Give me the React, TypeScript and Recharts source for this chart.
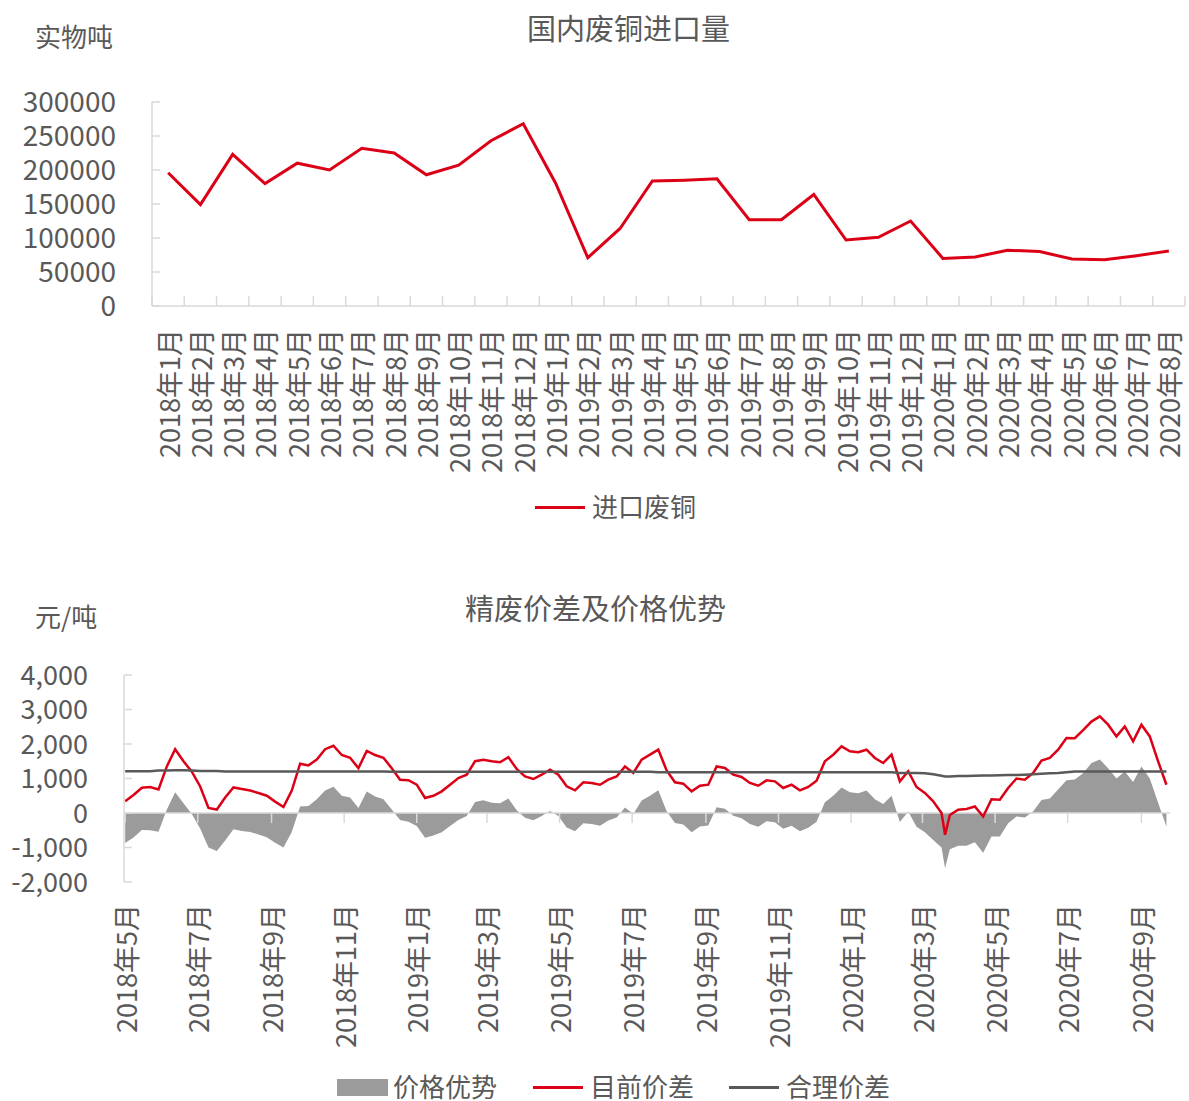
import React from "react";
import { LineChart, Line, ComposedChart, Area, XAxis, YAxis, ReferenceLine } from "recharts";

const FONT = '"Noto Sans CJK SC", "Noto Sans", sans-serif';
const TEXT = "#595959";
const AXIS = "#D9D9D9";
const RED = "#DC0017";
const DARK = "#595959";
const FILL = "#9B9B9B";

// 国内废铜进口量 (实物吨)
const importMonths = [
  "2018年1月", "2018年2月", "2018年3月", "2018年4月", "2018年5月", "2018年6月",
  "2018年7月", "2018年8月", "2018年9月", "2018年10月", "2018年11月", "2018年12月",
  "2019年1月", "2019年2月", "2019年3月", "2019年4月", "2019年5月", "2019年6月",
  "2019年7月", "2019年8月", "2019年9月", "2019年10月", "2019年11月", "2019年12月",
  "2020年1月", "2020年2月", "2020年3月", "2020年4月", "2020年5月", "2020年6月",
  "2020年7月", "2020年8月",
];
const importScrap = [
  196000, 149000, 223000, 180000, 210000, 200000, 232000, 225000, 193000, 207000, 243000, 268000,
  181000, 71000, 114000, 184000, 185000, 187000, 127000, 127000, 164000, 97000, 101000, 125000,
  70000, 72000, 82000, 80000, 69000, 68000, 74000, 81000,
];
const importTicks = [0, 50000, 100000, 150000, 200000, 250000, 300000];

// 精废价差及价格优势 (元/吨), weekly readings
const spreadDates = [
  "2018-05-01", "2018-05-08", "2018-05-15", "2018-05-22", "2018-05-29",
  "2018-06-05", "2018-06-12", "2018-06-19", "2018-06-26",
  "2018-07-03", "2018-07-10", "2018-07-17", "2018-07-24", "2018-07-31",
  "2018-08-07", "2018-08-14", "2018-08-21", "2018-08-28",
  "2018-09-04", "2018-09-11", "2018-09-18", "2018-09-25",
  "2018-10-02", "2018-10-09", "2018-10-16", "2018-10-23", "2018-10-30",
  "2018-11-06", "2018-11-13", "2018-11-20", "2018-11-27",
  "2018-12-04", "2018-12-11", "2018-12-18", "2018-12-25",
  "2019-01-01", "2019-01-08", "2019-01-15", "2019-01-22", "2019-01-29",
  "2019-02-05", "2019-02-12", "2019-02-19", "2019-02-26",
  "2019-03-05", "2019-03-12", "2019-03-19", "2019-03-26",
  "2019-04-02", "2019-04-09", "2019-04-16", "2019-04-23", "2019-04-30",
  "2019-05-07", "2019-05-14", "2019-05-21", "2019-05-28",
  "2019-06-04", "2019-06-11", "2019-06-18", "2019-06-25",
  "2019-07-02", "2019-07-09", "2019-07-16", "2019-07-23", "2019-07-30",
  "2019-08-06", "2019-08-13", "2019-08-20", "2019-08-27",
  "2019-09-03", "2019-09-10", "2019-09-17", "2019-09-24",
  "2019-10-01", "2019-10-08", "2019-10-15", "2019-10-22", "2019-10-29",
  "2019-11-05", "2019-11-12", "2019-11-19", "2019-11-26",
  "2019-12-03", "2019-12-10", "2019-12-17", "2019-12-24", "2019-12-31",
  "2020-01-07", "2020-01-14", "2020-01-21", "2020-01-28",
  "2020-02-04", "2020-02-11", "2020-02-18", "2020-02-25",
  "2020-03-03", "2020-03-10", "2020-03-17", "2020-03-20", "2020-03-24", "2020-03-31",
  "2020-04-07", "2020-04-14", "2020-04-21", "2020-04-28",
  "2020-05-05", "2020-05-12", "2020-05-19", "2020-05-26",
  "2020-06-02", "2020-06-09", "2020-06-16", "2020-06-23", "2020-06-30",
  "2020-07-07", "2020-07-14", "2020-07-21", "2020-07-28",
  "2020-08-04", "2020-08-11", "2020-08-18", "2020-08-25",
  "2020-09-01", "2020-09-08", "2020-09-15", "2020-09-22",
];
const currentSpread = [
  340, 520, 730, 750, 680,
  1350, 1850, 1500, 1200,
  770, 145, 100, 450, 740,
  695, 650, 580, 500,
  330, 174, 650, 1430,
  1380, 1550, 1850, 1950, 1680,
  1600, 1300, 1800, 1680,
  1600, 1300, 965, 950,
  820, 435, 500, 628, 820,
  1014, 1110, 1500, 1545,
  1500, 1470, 1620, 1275,
  1060, 985, 1110, 1255, 1110,
  773, 657, 890, 870,
  820, 966, 1060, 1350,
  1160, 1545, 1690, 1835, 1236,
  890, 850, 628, 790,
  820, 1350, 1305, 1110,
  1043, 870, 790, 946, 918,
  725, 820, 657, 753,
  937, 1500, 1690, 1930, 1790,
  1760, 1835, 1595, 1450,
  1690, 918, 1210, 753,
  580, 338, 0, -630, -60, 97,
  116, 190, -100, 400,
  386, 725, 1000, 966,
  1160, 1517, 1594, 1835, 2174,
  2170, 2400, 2650, 2800,
  2560, 2220, 2510, 2077,
  2560, 2220, 1497, 820,
];
const fairSpread = [
  1210, 1210, 1210, 1210, 1235,
  1235, 1240, 1240, 1235,
  1215, 1215, 1215, 1200, 1200,
  1200, 1200, 1200, 1200,
  1200, 1200, 1200, 1200,
  1200, 1200, 1200, 1200, 1200,
  1200, 1200, 1200, 1200,
  1200, 1195, 1195, 1195,
  1195, 1195, 1195, 1195, 1195,
  1195, 1195, 1195, 1195,
  1195, 1195, 1195, 1195,
  1195, 1195, 1195, 1195, 1195,
  1195, 1195, 1195, 1195,
  1195, 1195, 1195, 1195,
  1195, 1195, 1195, 1180, 1180,
  1180, 1180, 1180, 1180,
  1180, 1180, 1180, 1180,
  1180, 1180, 1180, 1180, 1180,
  1180, 1180, 1180, 1180,
  1180, 1180, 1180, 1180, 1180,
  1180, 1180, 1180, 1180,
  1180, 1160, 1160, 1160,
  1150, 1120, 1080, 1060, 1060, 1070,
  1075, 1080, 1085, 1090,
  1095, 1100, 1105, 1110,
  1120, 1140, 1150, 1160, 1180,
  1200, 1200, 1200, 1200,
  1200, 1200, 1200, 1200,
  1200, 1200, 1200, 1200,
];
const priceAdvantage = [
  -870, -710, -490, -500, -540,
  100, 600, 280, -30,
  -450, -1000, -1100, -800, -470,
  -520, -550, -620, -700,
  -860, -1000, -550, 190,
  200, 400, 650, 760, 500,
  450, 145, 620, 480,
  400, 100, -200, -250,
  -380, -720, -650, -560, -380,
  -200, -90, 320, 370,
  300, 280, 420, 80,
  -140, -210, -90, 60, -90,
  -420, -530, -300, -320,
  -370, -220, -130, 160,
  -30, 360, 500, 660, 50,
  -290, -330, -560, -390,
  -360, 170, 120, -80,
  -150, -320, -400, -240, -270,
  -460, -370, -530, -430,
  -250, 310, 500, 740, 600,
  570, 650, 400, 260,
  500, -260, 40, -400,
  -560, -780, -1000, -1600, -1050, -950,
  -950, -850, -1150, -680,
  -680, -300, -100, -130,
  40, 380, 420, 680, 950,
  970, 1150, 1450, 1550,
  1300, 1000, 1200, 900,
  1350, 1000, 300, -390,
];
const spreadTickDates = [
  "2018-05-01", "2018-07-01", "2018-09-01", "2018-11-01", "2019-01-01", "2019-03-01",
  "2019-05-01", "2019-07-01", "2019-09-01", "2019-11-01", "2020-01-01", "2020-03-01",
  "2020-05-01", "2020-07-01", "2020-09-01",
];
const spreadTicks = [-2000, -1000, 0, 1000, 2000, 3000, 4000];

const START = Date.UTC(2018, 4, 1);
const toDay = (s: string) => Math.round((Date.parse(s) - START) / 86400000);
const dateLabel = (s: string) => `${Number(s.slice(0, 4))}年${Number(s.slice(5, 7))}月`;

const importData = importMonths.map((m, i) => ({ i, month: m, value: importScrap[i] }));
const spreadData = spreadDates.map((d, i) => ({
  day: toDay(d),
  current: currentSpread[i],
  fair: fairSpread[i],
  advantage: priceAdvantage[i],
}));
const spreadTickDays = spreadTickDates.map(toDay);
const spreadLabelByDay: Record<number, string> = {};
spreadTickDates.forEach((d) => (spreadLabelByDay[toDay(d)] = dateLabel(d)));

const makeYTick = (fmt: (v: number) => string, gap: number, size: number) => (props: any) => {
  const { x, y, payload } = props;
  return (
    <g>
      <text
        x={x}
        y={y - 2}
        textAnchor="end"
        dominantBaseline="central"
        fill={TEXT}
        fontSize={size}
        fontFamily={FONT}
      >
        {fmt(payload.value)}
      </text>
      <line x1={x + gap} x2={x + gap + 8} y1={y} y2={y} stroke={AXIS} strokeWidth={1.5} />
    </g>
  );
};

const makeXTick = (fmt: (v: number) => string) => (props: any) => {
  const { x, y, payload } = props;
  return (
    <text
      x={x}
      y={y}
      transform={`rotate(-90, ${x}, ${y})`}
      textAnchor="end"
      dominantBaseline="central"
      fill={TEXT}
      fontSize={27}
      fontFamily={FONT}
    >
      {fmt(payload.value)}
    </text>
  );
};

const label = (text: string, left: number, centerY: number, size: number) => (
  <div
    style={{
      position: "absolute",
      left,
      top: centerY - size / 2,
      fontSize: size,
      lineHeight: `${size}px`,
      whiteSpace: "nowrap",
      color: TEXT,
      fontFamily: FONT,
    }}
  >
    {text}
  </div>
);

export default function App() {
  return (
    <div style={{ position: "absolute", left: 0, top: 0, width: 1189, height: 1101, background: "#fff", overflow: "hidden" }}>
      {label("国内废铜进口量", 527, 27, 29)}
      {label("实物吨", 35, 36, 26)}

      <div style={{ position: "absolute", left: 0, top: 0 }}>
        <LineChart width={1189} height={490} data={importData} margin={{ top: 102, right: 4, bottom: 14, left: 0 }}>
          <XAxis
            dataKey="i"
            type="number"
            domain={[-0.5, 31.5]}
            ticks={importData.map((d) => d.i)}
            interval={0}
            height={170}
            tickSize={0}
            tickMargin={23}
            tickLine={false}
            axisLine={{ stroke: AXIS, strokeWidth: 1.5 }}
            tick={makeXTick((v) => importMonths[v])}
          />
          <YAxis
            type="number"
            domain={[0, 300000]}
            ticks={importTicks}
            interval={0}
            width={152}
            tickSize={0}
            tickMargin={36}
            tickLine={false}
            axisLine={{ stroke: AXIS, strokeWidth: 1.5 }}
            tick={makeYTick((v) => String(v), 36, 28)}
          />
          {importData.concat([{ i: 32, month: "", value: 0 }]).map((d) => (
            <ReferenceLine
              key={d.i}
              segment={[
                { x: d.i - 0.5, y: 0 },
                { x: d.i - 0.5, y: 14500 },
              ]}
              stroke={AXIS}
              strokeWidth={1.5}
            />
          ))}
          <Line
            dataKey="value"
            type="linear"
            stroke={RED}
            strokeWidth={3}
            dot={false}
            isAnimationActive={false}
          />
        </LineChart>
      </div>

      <div style={{ position: "absolute", left: 535, top: 506, width: 50, height: 3, background: RED }} />
      {label("进口废铜", 592, 506, 26)}

      {label("精废价差及价格优势", 465, 607, 29)}
      {label("元/吨", 35, 616, 26)}

      <div style={{ position: "absolute", left: 0, top: 640 }}>
        <ComposedChart width={1189} height={420} data={spreadData} margin={{ top: 35, right: 19, bottom: 8, left: 0 }}>
          <XAxis
            dataKey="day"
            type="number"
            domain={[-1, 878]}
            ticks={spreadTickDays}
            interval={0}
            height={170}
            tickSize={0}
            tickMargin={22}
            tickLine={false}
            axisLine={false}
            tick={makeXTick((v) => spreadLabelByDay[v] ?? "")}
          />
          <YAxis
            type="number"
            domain={[-2000, 4000]}
            ticks={spreadTicks}
            interval={0}
            width={124}
            tickSize={0}
            tickMargin={36}
            tickLine={false}
            axisLine={{ stroke: AXIS, strokeWidth: 1.5 }}
            tick={makeYTick((v) => v.toLocaleString("en-US"), 36, 27)}
          />
          <Area
            dataKey="advantage"
            type="linear"
            baseValue={0}
            fill={FILL}
            fillOpacity={1}
            stroke="none"
            isAnimationActive={false}
          />
          <ReferenceLine y={0} stroke={AXIS} strokeWidth={1.5} />
          {spreadTickDays.map((d) => (
            <ReferenceLine
              key={d}
              segment={[
                { x: d, y: 0 },
                { x: d, y: -290 },
              ]}
              stroke={AXIS}
              strokeWidth={1.5}
            />
          ))}
          <Line dataKey="current" type="linear" stroke={RED} strokeWidth={2.5} dot={false} isAnimationActive={false} />
          <Line dataKey="fair" type="linear" stroke={DARK} strokeWidth={2.5} dot={false} isAnimationActive={false} />
        </ComposedChart>
      </div>

      <div style={{ position: "absolute", left: 337, top: 1079, width: 51, height: 17, background: FILL }} />
      {label("价格优势", 393, 1086, 26)}
      <div style={{ position: "absolute", left: 533, top: 1086, width: 50, height: 3, background: RED }} />
      {label("目前价差", 590, 1086, 26)}
      <div style={{ position: "absolute", left: 729, top: 1086, width: 50, height: 3, background: DARK }} />
      {label("合理价差", 786, 1086, 26)}
    </div>
  );
}
